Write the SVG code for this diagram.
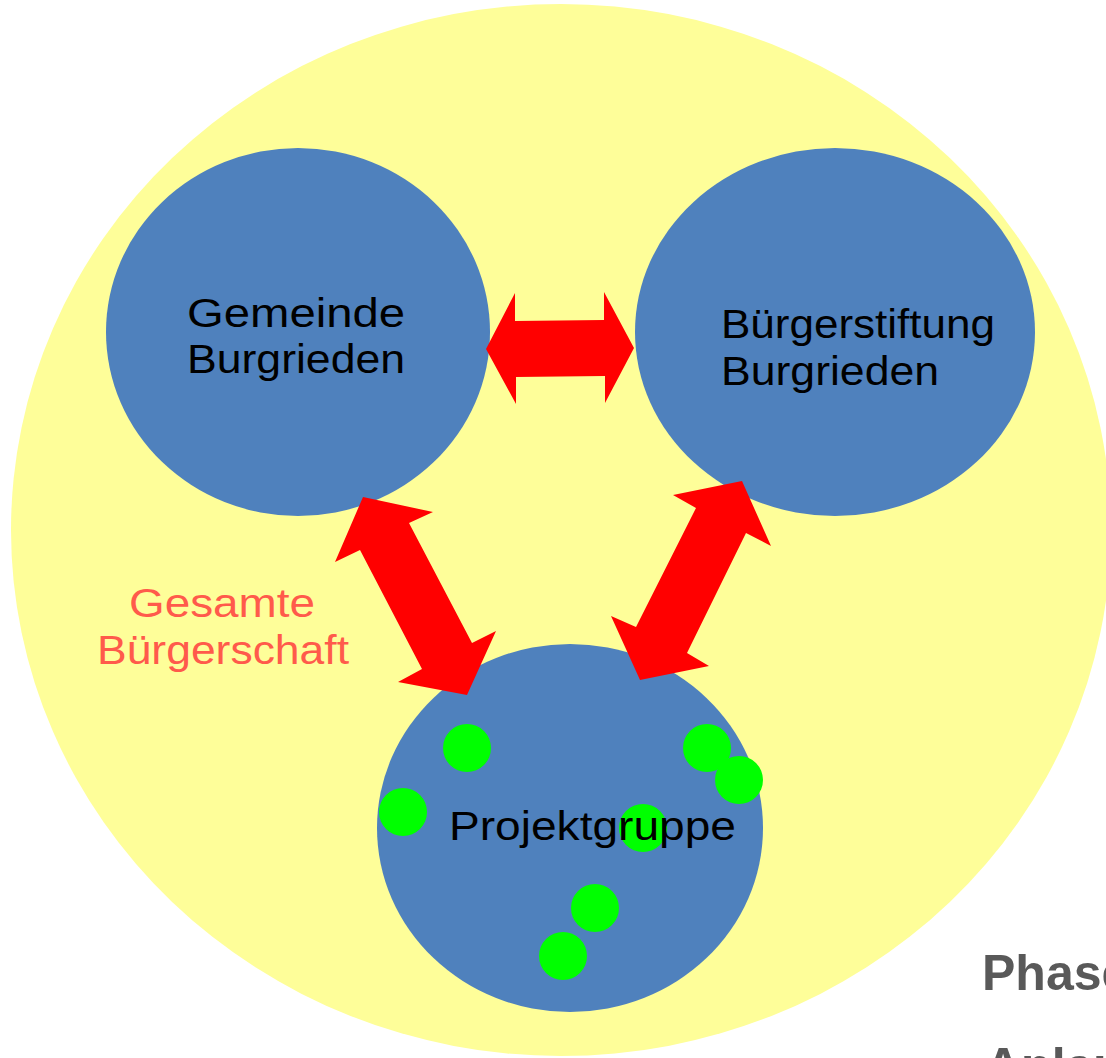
<svg xmlns="http://www.w3.org/2000/svg" width="1106" height="1058" viewBox="0 0 1106 1058">
  <style>
    .node { fill: #4F81BD; }
    .lbl { font-family: "Liberation Sans", Arial, sans-serif; font-size: 40px; fill: #000000; }
    .outer { font-family: "Liberation Sans", Arial, sans-serif; font-size: 40px; fill: #FF5A4B; }
    .phase { font-family: "Liberation Sans", Arial, sans-serif; font-size: 50px; font-weight: bold; fill: #595959; }
    .arrow { fill: #FF0000; }
    .dot { fill: #00FF00; }
  </style>
  <rect x="0" y="0" width="1106" height="1058" fill="#FFFFFF"/>
  <g id="buergerschaft">
    <ellipse cx="561" cy="530" rx="550" ry="526" fill="#FEFE99"/>
    <text class="outer" x="222" y="617" text-anchor="middle" textLength="186" lengthAdjust="spacingAndGlyphs">Gesamte</text>
    <text class="outer" x="223" y="664" text-anchor="middle" textLength="252" lengthAdjust="spacingAndGlyphs">Bürgerschaft</text>
  </g>
  <g id="gemeinde">
    <ellipse class="node" cx="298" cy="332" rx="192" ry="184"/>
    <text class="lbl" x="187" y="327" textLength="218" lengthAdjust="spacingAndGlyphs">Gemeinde</text>
    <text class="lbl" x="187" y="373" textLength="218" lengthAdjust="spacingAndGlyphs">Burgrieden</text>
  </g>
  <g id="stiftung">
    <ellipse class="node" cx="835" cy="332" rx="200" ry="184"/>
    <text class="lbl" x="721" y="338" textLength="274" lengthAdjust="spacingAndGlyphs">Bürgerstiftung</text>
    <text class="lbl" x="721" y="385" textLength="218" lengthAdjust="spacingAndGlyphs">Burgrieden</text>
  </g>
  <g id="projektgruppe">
    <ellipse class="node" cx="570" cy="828" rx="193" ry="184"/>
    <circle class="dot" cx="467" cy="748" r="24"/>
    <circle class="dot" cx="403" cy="812" r="24"/>
    <circle class="dot" cx="707" cy="748" r="24"/>
    <circle class="dot" cx="739" cy="780" r="24"/>
    <circle class="dot" cx="643" cy="828" r="24"/>
    <circle class="dot" cx="595" cy="908" r="24"/>
    <circle class="dot" cx="563" cy="956" r="24"/>
    <text class="lbl" x="449" y="840" textLength="287" lengthAdjust="spacingAndGlyphs">Projektgruppe</text>
  </g>
  <g id="connectors">
    <polygon class="arrow" points="486,349 515,293 515,321 604,320 604,292 634,348 605,403 605,376 516,377 516,404"/>
    <polygon class="arrow" points="363,497 433,512 409,523 472,643 496,631 467,695 398,682 422,669 360,550 335,562"/>
    <polygon class="arrow" points="742,481 771,546 746,533 687,653 709,666 640,680 611,616 636,627 696,508 673,495"/>
  </g>
  <g id="phase">
    <text class="phase" x="982" y="990">Phase</text>
    <text class="phase" x="985" y="1083">Anlauf</text>
  </g>
</svg>
